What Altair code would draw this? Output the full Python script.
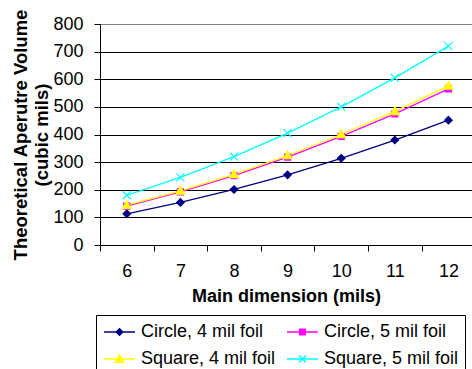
import altair as alt
import pandas as pd

dims = [6, 7, 8, 9, 10, 11, 12]
circle_4 = [113, 154, 201, 254, 314, 380, 452]
circle_5 = [141, 192, 251, 318, 393, 475, 565]
square_4 = [144, 196, 256, 324, 400, 484, 576]
square_5 = [180, 245, 320, 405, 500, 605, 720]
series_names = ["Circle, 4 mil foil", "Circle, 5 mil foil",
                "Square, 4 mil foil", "Square, 5 mil foil"]
colors = ["#000080", "#FF00FF", "#FFFF00", "#00FFFF"]
y_ticks = [0, 100, 200, 300, 400, 500, 600, 700, 800]
x_ticks = [5.5, 6, 6.5, 7, 7.5, 8, 8.5, 9, 9.5, 10, 10.5, 11, 11.5, 12]

rows = []
for name, vals in zip(series_names, [circle_4, circle_5, square_4, square_5]):
    for d, v in zip(dims, vals):
        rows.append({"dim": d, "volume": v, "series": name})
df = pd.DataFrame(rows)

marker_paths = [
    "M0,-0.75L0.75,0L0,0.75L-0.75,0Z",
    "M-0.6,-0.6L0.6,-0.6L0.6,0.6L-0.6,0.6Z",
    "M0,-0.9L0.85,0.65L-0.85,0.65Z",
    "M-0.8,-0.8L0.8,0.8M-0.8,0.8L0.8,-0.8",
]
legend_paths = [
    "M-0.9,0L2.2,0M0.65,-0.33L0.98,0L0.65,0.33L0.32,0Z",
    "M-0.9,0L2.2,0M0.37,-0.28L0.93,-0.28L0.93,0.28L0.37,0.28Z",
    "M-0.9,0L2.2,0M0.65,-0.42L1.05,0.32L0.25,0.32Z",
    "M-0.9,0L2.2,0M0.3,-0.35L1.0,0.35M0.3,0.35L1.0,-0.35",
]

cscale = alt.Scale(domain=series_names, range=colors)

x_enc = alt.X(
    "dim:Q",
    scale=alt.Scale(domain=[5.5, 12.44], nice=False, zero=False),
    axis=alt.Axis(
        values=x_ticks,
        labelExpr="datum.value % 1 == 0 ? format(datum.value, 'd') : ''",
        tickOpacity={"condition": {"test": "datum.value % 1 == 0", "value": 0}, "value": 1},
        labelOverlap=False,
        labelFlush=False,
        grid=False,
        tickSize=6,
        tickColor="#000000",
        domainColor="#000000",
        labelFontSize=18,
        labelPadding=11,
        labelColor="#000000",
        title="Main dimension (mils)",
        titleFontSize=18,
        titleFontWeight="bold",
        titleColor="#000000",
        titlePadding=7,
    ),
)
y_enc = alt.Y(
    "volume:Q",
    scale=alt.Scale(domain=[0, 800], nice=False),
    axis=alt.Axis(
        values=y_ticks,
        grid=True,
        gridColor="#000000",
        gridOpacity={"condition": {"test": "datum.value == 800", "value": 0}, "value": 1},
        tickSize=6,
        tickColor="#000000",
        domainColor="#000000",
        labelFontSize=18,
        labelPadding=11,
        labelColor="#000000",
        title=["Theoretical Aperutre Volume", "(cubic mils)"],
        titleFontSize=18.5,
        titleFontWeight="bold",
        titleColor="#000000",
        titleLineHeight=21,
        titlePadding=1,
    ),
)

base = alt.Chart(df)

lines = base.mark_line(strokeWidth=1.3).encode(
    x=x_enc, y=y_enc,
    color=alt.Color("series:N", scale=cscale, legend=None),
    detail="series:N",
)

points = base.mark_point(size=100, strokeWidth=1.2, opacity=1).encode(
    x=x_enc, y=y_enc,
    fill=alt.Fill("series:N", scale=cscale, legend=None),
    stroke=alt.Stroke("series:N", scale=cscale, legend=None),
    shape=alt.Shape("series:N", scale=alt.Scale(domain=series_names, range=marker_paths), legend=None),
)

leg = alt.Legend(
    orient="none", legendX=-4, legendY=291, columns=2, direction="horizontal", title=None,
    padding=6, strokeColor="#000000", fillColor="#FFFFFF", cornerRadius=0,
    symbolSize=400, symbolStrokeWidth=1.5, labelFontSize=18, labelColor="#000000",
    labelOffset=17, columnPadding=8, rowPadding=7, symbolOpacity=1,
)

legend_layer = base.transform_filter("false").mark_point(size=400, strokeWidth=1.5, opacity=1).encode(
    fill=alt.Fill("series:N", scale=alt.Scale(domain=series_names, range=colors), legend=leg),
    stroke=alt.Stroke("series:N", scale=alt.Scale(domain=series_names, range=colors), legend=leg),
    shape=alt.Shape("series:N", scale=alt.Scale(domain=series_names, range=legend_paths), legend=leg),
)

chart = alt.layer(lines, points, legend_layer).resolve_scale(
    color="independent", fill="independent", stroke="independent", shape="independent"
).properties(
    width=372,
    height=221,
    autosize=alt.AutoSizeParams(type="none"),
    padding={"left": 100, "top": 24, "right": 0, "bottom": 124},
    background="#FFFFFF",
).configure_view(
    fill="#FFFFCC", stroke="#808080", strokeWidth=1
).configure_axis(
    labelFont="Liberation Sans", titleFont="Liberation Sans"
).configure_legend(
    labelFont="Liberation Sans"
)

chart.save("out.html", embed_options={"renderer": "svg", "actions": False})
